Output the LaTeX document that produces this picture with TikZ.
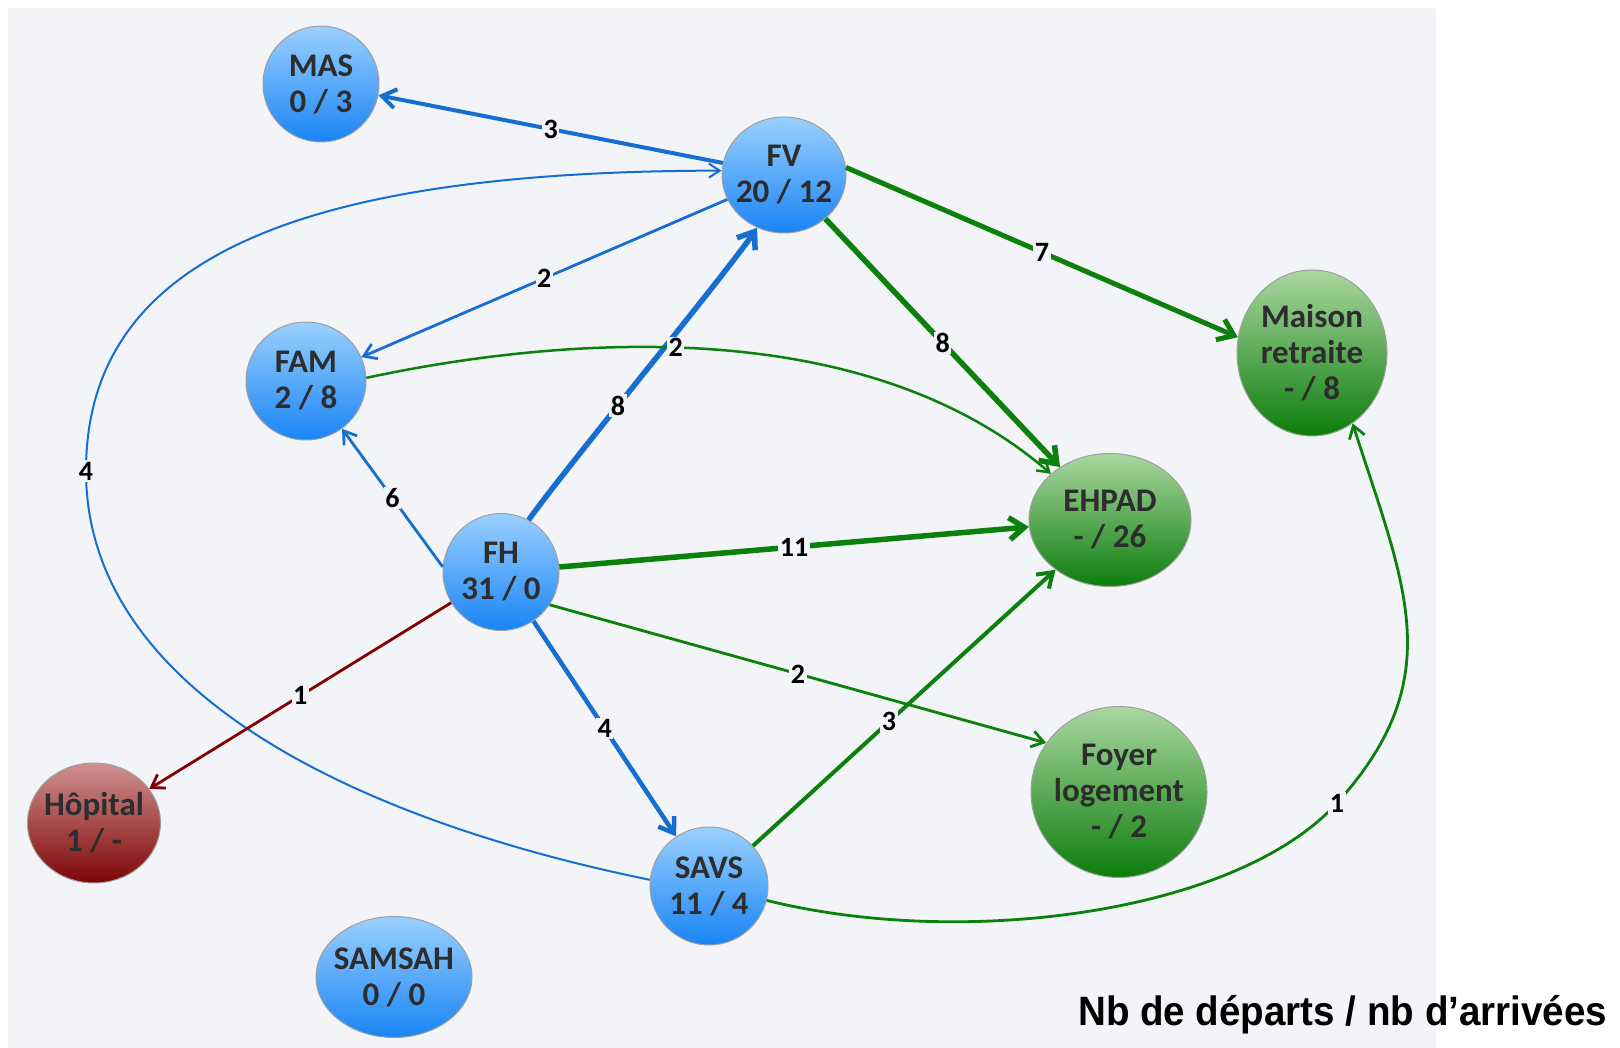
\documentclass[tikz,border=0pt]{standalone}
\usepackage{fontspec}
\setmainfont{Carlito}
\newfontfamily\legendfont{Liberation Sans}
\usetikzlibrary{arrows.meta,shapes.geometric}
\definecolor{panel}{RGB}{242,244,247}
\definecolor{eblue}{RGB}{22,110,208}
\definecolor{egreen}{RGB}{12,128,12}
\definecolor{ered}{RGB}{130,0,0}
\definecolor{btop}{RGB}{155,208,255}
\definecolor{bbot}{RGB}{25,132,245}
\definecolor{gtop}{RGB}{170,215,160}
\definecolor{gbot}{RGB}{12,125,12}
\definecolor{rtop}{RGB}{208,145,145}
\definecolor{rbot}{RGB}{125,5,5}
\definecolor{ntext}{RGB}{45,45,45}
\begin{document}
\begin{tikzpicture}[x=1pt,y=-1pt,
  bubble/.style={ellipse, draw=gray!75, line width=1pt, inner sep=0pt},
  bnode/.style={bubble, top color=btop, bottom color=bbot},
  gnode/.style={bubble, top color=gtop, bottom color=gbot},
  rnode/.style={bubble, top color=rtop, bottom color=rbot},
  ntxt/.style={text=ntext, font=\bfseries\fontsize{33}{36}\selectfont, align=center, inner sep=0pt},
  lbl/.style={fill=panel, inner sep=1.5pt, text=black, font=\bfseries\fontsize{28}{28}\selectfont},
  wA/.style={line width=2pt, -{Straight Barb[length=11pt,width=14pt]}},
  wB/.style={line width=2.8pt, -{Straight Barb[length=12pt,width=16pt]}},
  wC/.style={line width=4pt, -{Straight Barb[length=14pt,width=19pt]}},
  wD/.style={line width=5.5pt, -{Straight Barb[length=15pt,width=22pt]}}
]
\useasboundingbox (0,0) rectangle (1620,1048);
\fill[panel] (8,8) rectangle (1436,1048);

% nodes
\node[bnode, minimum width=116pt, minimum height=116pt] (MAS) at (321,84) {};
\node[bnode, minimum width=124pt, minimum height=116pt] (FV) at (784,175) {};
\node[bnode, minimum width=120pt, minimum height=118pt] (FAM) at (306,381) {};
\node[bnode, minimum width=116pt, minimum height=117pt] (FH) at (501,572) {};
\node[bnode, minimum width=118pt, minimum height=118pt] (SAVS) at (709,886) {};
\node[bnode, minimum width=156pt, minimum height=121pt] (SAMSAH) at (394,977) {};
\node[gnode, minimum width=150pt, minimum height=166pt] (Maison) at (1312,353) {};
\node[gnode, minimum width=162pt, minimum height=133pt] (EHPAD) at (1110,520) {};
\node[gnode, minimum width=176pt, minimum height=171pt] (Foyer) at (1119,792) {};
\node[rnode, minimum width=133pt, minimum height=120pt] (Hop) at (94,823) {};

\node[ntxt] (MASt) at (MAS) {MAS\\0 / 3};
\node[ntxt] (FVt) at (FV) {FV\\20 / 12};
\node[ntxt] (FAMt) at (FAM) {FAM\\2 / 8};
\node[ntxt] (FHt) at (FH) {FH\\31 / 0};
\node[ntxt] (SAVSt) at (SAVS) {SAVS\\11 / 4};
\node[ntxt] (SAMSAHt) at (SAMSAH) {SAMSAH\\0 / 0};
\node[ntxt] (Maisont) at (Maison) {Maison\\retraite\\- / 8};
\node[ntxt] (EHPADt) at (EHPAD) {EHPAD\\- / 26};
\node[ntxt] (Foyert) at (Foyer) {Foyer\\logement\\- / 2};
\node[ntxt] (Hopt) at (Hop) {Hôpital\\1 / -};

% edges
\draw[eblue, wC] (FV) -- (MAS) node[lbl, midway] (l1) {3};
\draw[eblue, wA] (SAVS.174) .. controls (376,824) and (86,700) .. (86,471) node[lbl] (l2) {4}
   .. controls (86,261) and (292,171) .. (FV.176);
\draw[eblue, wB] (FV) -- (FAM) node[lbl, midway] (l3) {2};
\draw[eblue, wD] (FH.62) .. controls (564,470) and (725,275) .. (FV.-117) node[lbl, pos=0.41] (l4) {8};
\draw[egreen, wA, line width=2.5pt] (FAM.3) .. controls (520,345) and (850,300) .. (EHPAD.142) node[lbl, pos=0.48] (l5) {2};
\draw[egreen, wD] (FV) -- (EHPAD) node[lbl, midway] (l6) {8};
\draw[egreen, wD, line width=5pt] (FV.7) -- (Maison.168) node[lbl, midway] (l7) {7};
\draw[egreen, wD] (FH) -- (EHPAD) node[lbl, midway] (l8) {11};
\draw[egreen, wB] (FH.-34) -- (Foyer.146) node[lbl, midway] (l9) {2};
\draw[eblue, wB] (FH.175) -- (FAM.-53) node[lbl, midway] (l10) {6};
\draw[ered, wB] (FH) -- (Hop) node[lbl, midway] (l11) {1};
\draw[eblue, wC, line width=4.5pt] (FH) -- (SAVS) node[lbl, midway] (l12) {4};
\draw[egreen, wC] (SAVS) -- (EHPAD) node[lbl, pos=0.45] (l13) {3};
\draw[egreen, wB] (SAVS.-14) .. controls (962,949) and (1236,914) .. (1337,803) node[lbl] (l14) {1}
   .. controls (1451,677) and (1404,585) .. (Maison.-60);

\node[anchor=base west, inner sep=0pt, xscale=0.94, text=black, font=\legendfont\bfseries\fontsize{41}{44}\selectfont] (legend) at (1078,1025) {Nb de départs / nb d’arrivées};
\end{tikzpicture}
\end{document}
